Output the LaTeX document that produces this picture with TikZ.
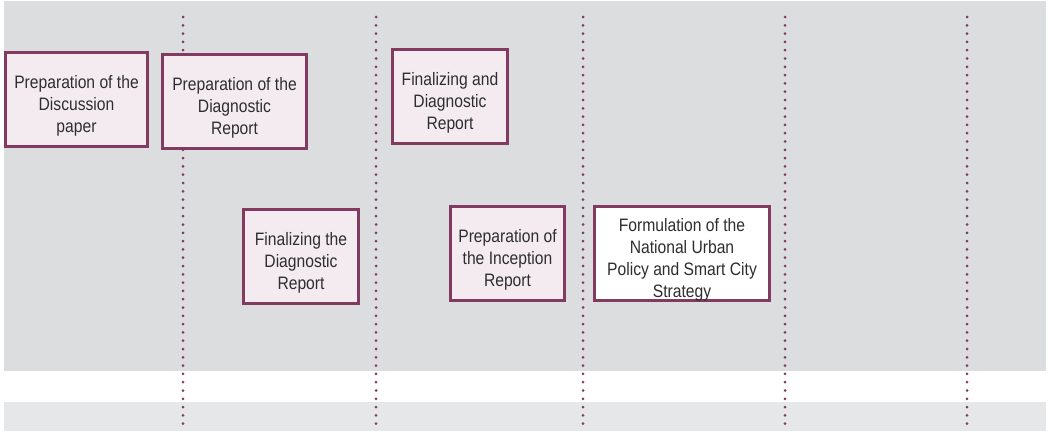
\documentclass[tikz,border=0pt]{standalone}
\usepackage{fontspec}
\setmainfont{Liberation Sans}[FakeStretch=0.87]
\definecolor{band}{HTML}{DCDDDF}
\definecolor{bandlight}{HTML}{E6E7E8}
\definecolor{plum}{HTML}{833A60}
\definecolor{boxfill}{HTML}{F4EBF1}
\definecolor{txt}{HTML}{2E2E2E}
\tikzset{
  stage/.style={draw=plum, line width=3pt, fill=boxfill, inner sep=0pt,
    minimum height=94.5pt},
  stagewhite/.style={stage, fill=white},
  stagetext/.style={align=center, text=txt, yshift=-6pt, inner sep=0pt,
    font=\fontsize{18}{22}\selectfont},
  divider/.style={draw=plum, line width=3pt, dash pattern=on 0pt off 8.3pt, line cap=round}
}
\begin{document}
\begin{tikzpicture}[x=1pt,y=-1pt]
\useasboundingbox (0,0) rectangle (1048,431);
\fill[band] (4,1) rectangle (1046,371);
\fill[bandlight] (4,402) rectangle (1046,431);
\foreach \xx in {183,376,583,785,967}{
  \draw[divider] (\xx,17) -- (\xx,431);
}
\node[stage, minimum width=142.5pt, label={[stagetext]center:Preparation of the\\Discussion\\paper}] (discussion) at (76.5,99.5) {};
\node[stage, minimum width=144.5pt, label={[stagetext]center:Preparation of the\\Diagnostic\\Report}] (prepdiag) at (234.5,101.5) {};
\node[stage, minimum width=115.5pt, label={[stagetext]center:Finalizing and\\Diagnostic\\Report}] (finanddiag) at (450,96.5) {};
\node[stage, minimum width=115.5pt, label={[stagetext]center:Finalizing the\\Diagnostic\\Report}] (findiag) at (301,256.5) {};
\node[stage, minimum width=114.5pt, label={[stagetext]center:Preparation of\\the Inception\\Report}] (inception) at (507.5,253.5) {};
\node[stagewhite, minimum width=175.5pt, label={[stagetext]center:Formulation of the\\National Urban\\Policy and Smart City\\Strategy}] (formulation) at (682,253.5) {};
\end{tikzpicture}
\end{document}
